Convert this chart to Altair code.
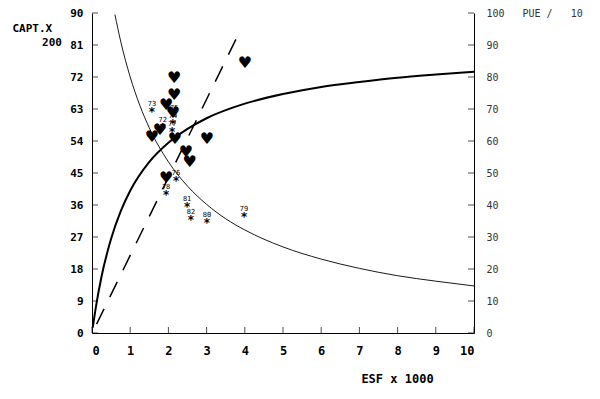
import altair as alt
import pandas as pd

# Fitted catch curve (left axis, CAPT.X / 200)
catch_x = [0.02, 0.1, 0.25, 0.5, 0.75, 1, 1.5, 2, 2.5, 3, 4, 5, 6, 7, 8, 9, 10]
catch_y = [1.5, 7.2, 15.9, 26.5, 34.2, 40.0, 48.1, 53.5, 57.4, 60.4, 64.5, 67.2, 69.2, 70.6, 71.8, 72.7, 73.5]

# Fitted CPUE curve (right axis, PUE / 10)
cpue_x = [0.6, 0.75, 1, 1.25, 1.5, 2, 2.5, 3, 3.5, 4, 5, 6, 7, 8, 9, 10]
cpue_y = [99.5, 91.2, 80.0, 71.2, 64.1, 53.5, 45.9, 40.2, 35.7, 32.2, 26.9, 23.1, 20.2, 17.9, 16.2, 14.7]

# Dashed line
dash_x = [0.12, 3.9]
dash_y = [2.5, 85.5]

# Bold (heart) markers
heart_x = [4.0, 2.15, 2.15, 1.94, 2.12, 1.78, 1.57, 2.17, 3.01, 2.46, 2.56, 1.94]
heart_y = [76.0, 71.6, 66.9, 64.0, 62.0, 57.0, 55.0, 54.6, 54.6, 51.0, 48.2, 43.5]

# Asterisk markers with year labels
star_x = [1.57, 1.85, 2.12, 2.15, 2.1, 2.2, 1.94, 2.49, 2.59, 3.01, 3.98]
star_y = [63.0, 58.5, 59.6, 62.0, 57.5, 43.5, 39.6, 36.2, 32.6, 31.8, 33.4]
star_lab = ["73", "72", "74", "75", "77", "76", "78", "81", "82", "80", "79"]

left_ticks = [0, 9, 18, 27, 36, 45, 54, 63, 72, 81, 90]
right_ticks = [0, 10, 20, 30, 40, 50, 60, 70, 80, 90, 100]
x_ticks = [0, 1, 2, 3, 4, 5, 6, 7, 8, 9, 10]

MONO = "DejaVu Sans Mono"
W, H = 382, 320

xs = alt.Scale(domain=[0, 10], nice=False, zero=False)
yl = alt.Scale(domain=[0, 90], nice=False, zero=False)
yr = alt.Scale(domain=[0, 100], nice=False, zero=False)

x_axis = alt.Axis(values=x_ticks, ticks=False, grid=False, domainColor="black",
                  labelFont=MONO, labelFontWeight="bold", labelFontSize=12, labelColor="black",
                  labelPadding=12, title="ESF x 1000", titleFont=MONO, titleFontSize=12,
                  titleFontWeight="bold", titleColor="black", titleX=305, titleY=45,
                  titleAnchor="start", titleAlign="center", titleBaseline="middle")
y_axis = alt.Axis(values=left_ticks, ticks=False, grid=False, domainColor="black",
                  labelFont=MONO, labelFontWeight="bold", labelFontSize=11, labelColor="black",
                  labelPadding=9, title="CAPT.X",
                  titleFont=MONO, titleFontSize=11, titleFontWeight="bold", titleColor="black",
                  titleAngle=0, titleX=-80, titleY=15, titleAlign="left", titleBaseline="middle")
yr_axis = alt.Axis(values=right_ticks, ticks=False, grid=False, domainColor="black",
                   labelFont=MONO, labelFontSize=10, labelColor="#333333",
                   labelPadding=12, title="PUE\u00a0/\u00a0\u00a0\u00a010", titleFont=MONO, titleFontSize=10,
                   titleFontWeight="normal", titleColor="#333333",
                   titleAngle=0, titleX=48, titleY=0, titleAlign="left", titleBaseline="middle")

df_catch = pd.DataFrame({"x": catch_x, "y": catch_y})
df_cpue = pd.DataFrame({"x": cpue_x, "y": cpue_y})
df_dash = pd.DataFrame({"x": dash_x, "y": dash_y})
df_heart = pd.DataFrame({"x": heart_x, "y": heart_y})
df_star = pd.DataFrame({"x": star_x, "y": star_y, "lab": star_lab})
df_lt = pd.DataFrame({"x": [0.0] * len(left_ticks), "y": left_ticks})
df_rt = pd.DataFrame({"x": [10.0] * len(right_ticks), "y": right_ticks})
df_xt = pd.DataFrame({"x": x_ticks, "y": [0.0] * len(x_ticks)})
df_sub = pd.DataFrame({"t": ["200"]})

X = alt.X("x:Q", scale=xs, axis=x_axis)
YL = alt.Y("y:Q", scale=yl, axis=y_axis)
YR = alt.Y("y:Q", scale=yr, axis=yr_axis)

thick = alt.Chart(df_catch).mark_line(color="black", strokeWidth=2, interpolate="monotone").encode(x=X, y=YL)
dashed = alt.Chart(df_dash).mark_line(color="black", strokeWidth=1.5, strokeDash=[17, 13]).encode(x=X, y=YL)
hearts = alt.Chart(df_heart).mark_text(text="\u2665", font="DejaVu Sans", fontSize=16,
                                       color="black", baseline="middle").encode(x=X, y=YL)
stars = alt.Chart(df_star).mark_text(text="*", font=MONO, fontSize=12, fontWeight="bold",
                                     color="black", baseline="middle", dy=3).encode(x=X, y=YL)
star_labels = alt.Chart(df_star).mark_text(font=MONO, fontSize=7, color="black",
                                           baseline="middle", dy=-5).encode(x=X, y=YL, text="lab:N")
lticks = alt.Chart(df_lt).mark_tick(color="black", orient="horizontal", size=6, thickness=1, xOffset=3).encode(x=X, y=YL)
xticks = alt.Chart(df_xt).mark_tick(color="black", orient="vertical", size=6, thickness=1, yOffset=-3).encode(x=X, y=YL)
sub_title = alt.Chart(df_sub).mark_text(font=MONO, fontSize=11, fontWeight="bold",
                                        color="black", align="center", baseline="middle").encode(
    x=alt.value(-40), y=alt.value(30), text="t:N")

left = alt.layer(thick, dashed, lticks, xticks, hearts, stars, star_labels, sub_title)

thin = alt.Chart(df_cpue).mark_line(color="black", strokeWidth=0.9, interpolate="monotone").encode(x=X, y=YR)
rticks = alt.Chart(df_rt).mark_tick(color="black", orient="horizontal", size=6, thickness=1, xOffset=-3).encode(x=X, y=YR)
right = alt.layer(thin, rticks)

chart = alt.layer(left, right).resolve_scale(y="independent").properties(
    width=W, height=H,
    autosize=alt.AutoSizeParams(type="none"),
    padding={"left": 84, "top": 5, "right": 116, "bottom": 52},
    background="white",
).configure_view(stroke=None)

chart.save("out.html", embed_options={"renderer": "svg", "actions": False})
